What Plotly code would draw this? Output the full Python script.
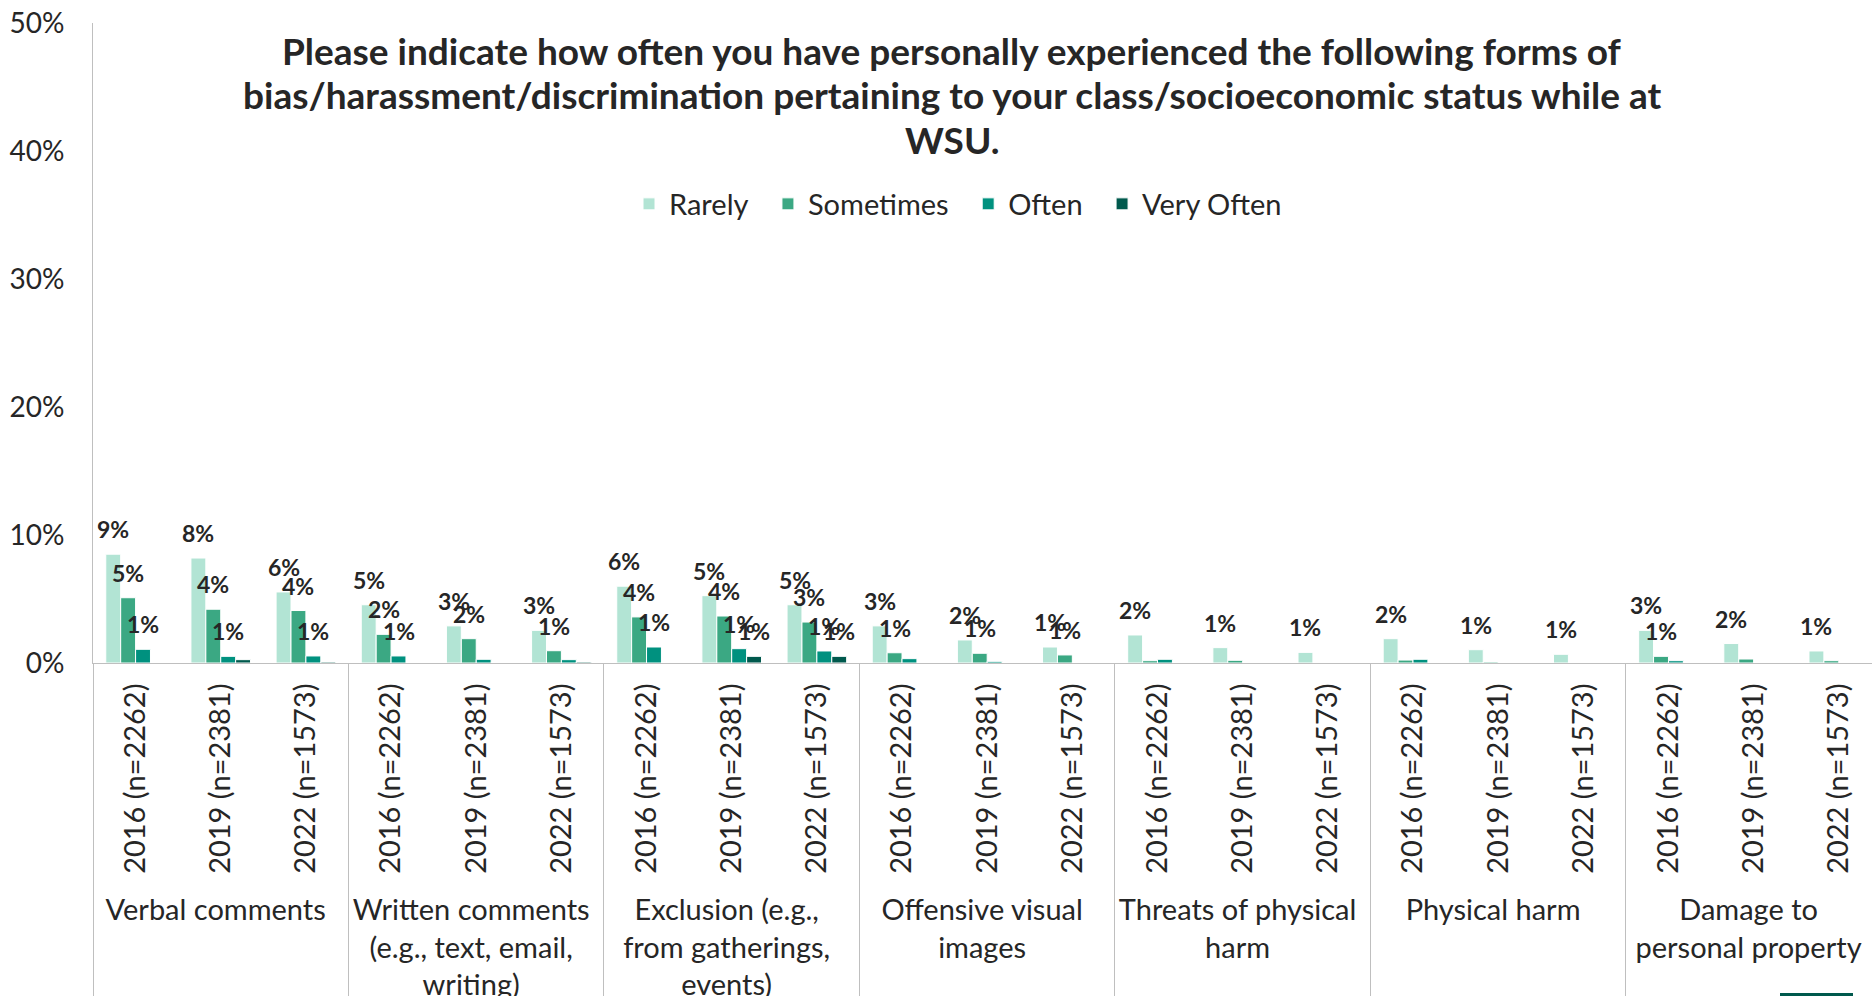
import plotly.graph_objects as go

# Categories
groups = [
    "Verbal comments",
    "Written comments<br>(e.g., text, email,<br>writing)",
    "Exclusion (e.g.,<br>from gatherings,<br>events)",
    "Offensive visual<br>images",
    "Threats of physical<br>harm",
    "Physical harm",
    "Damage to<br>personal property",
]
years = ["2016 (n=2262)", "2019 (n=2381)", "2022 (n=1573)"]

# Percent of respondents, one value per (form, survey year)
rarely = [8.5, 8.2, 5.55, 4.55, 2.9, 2.55, 6.0, 5.26, 4.55, 2.9, 1.8, 1.25,
          2.19, 1.2, 0.83, 1.9, 1.04, 0.68, 2.55, 1.52, 0.94]
sometimes = [5.1, 4.2, 4.1, 2.24, 1.9, 0.96, 3.6, 3.67, 3.2, 0.8, 0.76, 0.63,
             0.18, 0.21, 0.0, 0.23, 0.08, 0.0, 0.52, 0.31, 0.18]
often = [1.07, 0.52, 0.55, 0.55, 0.29, 0.26, 1.25, 1.12, 0.94, 0.34, 0.13, 0.0,
         0.29, 0.0, 0.0, 0.29, 0.0, 0.0, 0.18, 0.0, 0.0]
very_often = [0.0, 0.26, 0.08, 0.0, 0.0, 0.08, 0.0, 0.52, 0.52, 0.0, 0.0, 0.0,
              0.0, 0.0, 0.0, 0.0, 0.0, 0.0, 0.0, 0.0, 0.0]

series_names = ["Rarely", "Sometimes", "Often", "Very Often"]
series_values = [rarely, sometimes, often, very_often]
series_colors = ["#B2E4D4", "#3BA883", "#00917F", "#00594D"]

y_ticks = [0, 10, 20, 30, 40, 50]

title_lines = [
    "Please indicate how often you have personally experienced the following forms of",
    "bias/harassment/discrimination pertaining to your class/socioeconomic status while at",
    "WSU.",
]

# Layout geometry (pixels)
W, H = 1872, 996
ML, MR, MT, MB = 93, 0, 23, 333
X_RANGE = [-0.5, 20.39]
BARGAP = 0.3
TEXT = "#262626"
AXIS = "#BFBFBF"
FONT = "Lato"

plot_w = W - ML - MR
plot_h = H - MT - MB
cat_px = plot_w / (X_RANGE[1] - X_RANGE[0])
slot_px = cat_px * (1 - BARGAP) / len(series_names)


def px_to_paper_x(px):
    return (px - ML) / plot_w


def px_to_paper_y(py):
    return (H - MB - py) / plot_h


x_outer = [g for g in groups for _ in years]
x_inner = [y for _ in groups for y in years]


def pct_label(v):
    r = int(v + 0.5)
    return f"{r}%" if r >= 1 else ""


fig = go.Figure()
for k, (name, vals, color) in enumerate(zip(series_names, series_values, series_colors)):
    # en space after all but the last legend entry widens the gap between items
    legend_name = name + ("\u2002" if k < len(series_names) - 1 else "")
    fig.add_trace(go.Bar(
        name=legend_name,
        x=[x_outer, x_inner],
        y=vals,
        marker=dict(color=color, line=dict(color="white", width=1)),
        hoverinfo="skip",
    ))

# Value labels above each bar
annotations = []
n_series = len(series_names)
for i, vals in enumerate(series_values):
    for j, v in enumerate(vals):
        lab = pct_label(v)
        if not lab:
            continue
        annotations.append(dict(
            x=j, y=v, xref="x", yref="y",
            xshift=(i - (n_series - 1) / 2) * slot_px,
            yshift=25,
            text=f"<b>{lab}</b>",
            showarrow=False,
            yanchor="middle", xanchor="center",
            font=dict(family=FONT, size=23, color=TEXT),
        ))

# Chart title, one annotation per line for tight line spacing
for k, line in enumerate(title_lines):
    annotations.append(dict(
        x=px_to_paper_x(952), y=px_to_paper_y(50 + 44.5 * k),
        xref="paper", yref="paper",
        text=f"<b>{line}</b>", showarrow=False,
        xanchor="center", yanchor="middle",
        font=dict(family=FONT, size=37, color=TEXT),
    ))

fig.update_layout(
    width=W, height=H,
    margin=dict(l=ML, r=MR, t=MT, b=MB, autoexpand=False),
    paper_bgcolor="white", plot_bgcolor="white",
    font=dict(family=FONT, color=TEXT),
    barmode="group", bargap=BARGAP, bargroupgap=0,
    showlegend=True,
    legend=dict(
        orientation="h",
        x=px_to_paper_x(958), xanchor="center",
        y=px_to_paper_y(204), yanchor="middle",
        font=dict(family=FONT, size=29, color=TEXT),
        bgcolor="rgba(0,0,0,0)",
        traceorder="normal",
    ),
    annotations=annotations,
    shapes=[dict(
        type="rect", xref="paper", yref="paper",
        x0=px_to_paper_x(1780), x1=px_to_paper_x(1853),
        y0=px_to_paper_y(993), y1=px_to_paper_y(1000),
        fillcolor="#00594D", line=dict(width=0),
    )],
)

fig.update_xaxes(
    type="multicategory",
    range=X_RANGE,
    showline=True, linecolor=AXIS, linewidth=1,
    showdividers=True, dividercolor=AXIS, dividerwidth=1,
    showgrid=False, zeroline=False,
    ticks="", tickangle=-90,
    ticklabelstandoff=8,
    tickfont=dict(family=FONT, size=29, color=TEXT),
    automargin=False,
)
fig.update_yaxes(
    range=[0, 50],
    tickvals=y_ticks,
    ticktext=[f"{t}%" for t in y_ticks],
    showline=True, linecolor=AXIS, linewidth=1,
    showgrid=False, zeroline=False,
    ticks="",
    ticklabelstandoff=22,
    tickfont=dict(family=FONT, size=28, color=TEXT),
    automargin=False,
)

fig.write_html("out.html", config={"displayModeBar": False})
